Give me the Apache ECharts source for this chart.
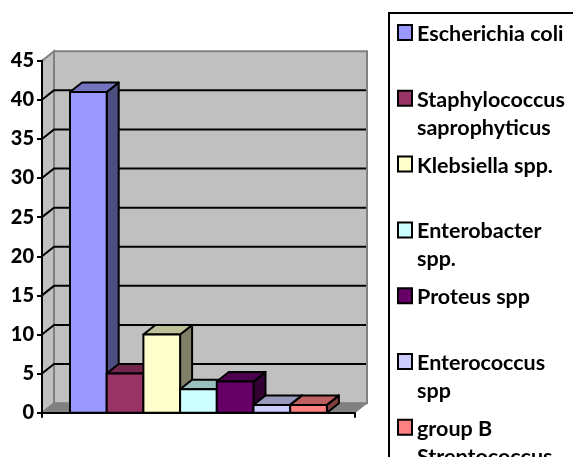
<!DOCTYPE html>
<html>
<head>
<meta charset="utf-8">
<style>
	html, body { margin: 0; padding: 0; background: #fff; overflow: hidden; }
	#chart { width: 573px; height: 457px; }
</style>
<script src="https://cdn.jsdelivr.net/npm/echarts@6/dist/echarts.min.js"></script>
</head>
<body>
<div id="chart"></div>
<script>
var species = ['Escherichia coli', 'Staphylococcus saprophyticus', 'Klebsiella spp.', 'Enterobacter spp.', 'Proteus spp', 'Enterococcus spp', 'group B Streptococcus'];
var speciesLines = ['Escherichia coli\n ', 'Staphylococcus\nsaprophyticus', 'Klebsiella spp.\n ', 'Enterobacter\nspp.', 'Proteus spp\n ', 'Enterococcus\nspp', 'group B\nStreptococcus'];
var counts = [41, 5, 10, 3, 4, 1, 1];
var colors = ['#9999FF', '#993366', '#FFFFCC', '#CCFFFF', '#660066', '#CCCCFF', '#FF8080'];
var gridValues = [5, 10, 15, 20, 25, 30, 35, 40];

// depth of the fake 3d box, in pixels
var DX = 12;
var DY = -9.5;
var BAR_W = 36.7 / 313;
var BAR_START = 28 / 313;

function shade(hex, k) {
	var n = parseInt(hex.slice(1), 16);
	return 'rgb(' + Math.round((n >> 16) * k) + ',' + Math.round(((n >> 8) & 255) * k) + ',' + Math.round((n & 255) * k) + ')';
}

function renderWalls(params, api) {
	var c = params.coordSys;
	var l = c.x, r = c.x + c.width, t = c.y, b = c.y + c.height;
	var wall = { fill: '#C0C0C0', stroke: '#808080', lineWidth: 2 };
	return {
		type: 'group',
		children: [
			{ type: 'polygon', shape: { points: [[l + DX, t + DY], [r + DX, t + DY], [r + DX, b + DY], [l + DX, b + DY]] }, style: wall },
			{ type: 'polygon', shape: { points: [[l, t], [l + DX, t + DY], [l + DX, b + DY], [l, b]] }, style: wall },
			{ type: 'polygon', shape: { points: [[l, b], [l + DX, b + DY], [r + DX, b + DY], [r, b]] }, style: { fill: '#808080', stroke: '#808080', lineWidth: 1 } }
		]
	};
}

function renderGrid(params, api) {
	var c = params.coordSys;
	var y = api.coord([0, api.value(0)])[1];
	return {
		type: 'polyline',
		shape: { points: [[c.x, y], [c.x + DX, y + DY], [c.x + c.width + DX - 1, y + DY]] },
		style: { fill: null, stroke: '#000', lineWidth: 2 }
	};
}

function renderBar(params, api) {
	var i = params.seriesIndex - 2;
	var band = api.size([1, 0])[0];
	var left = params.coordSys.x + band * (BAR_START + BAR_W * i);
	var right = left + band * BAR_W;
	var top = api.coord([0, api.value(1)])[1];
	var bottom = api.coord([0, 0])[1];
	var col = colors[i];
	var edge = { stroke: '#000', lineWidth: 2, lineJoin: 'round' };
	return {
		type: 'group',
		children: [
			{ type: 'polygon', shape: { points: [[right, top], [right + DX, top + DY], [right + DX, bottom + DY], [right, bottom]] }, style: Object.assign({ fill: shade(col, 0.5) }, edge) },
			{ type: 'polygon', shape: { points: [[left, top], [left + DX, top + DY], [right + DX, top + DY], [right, top]] }, style: Object.assign({ fill: shade(col, 0.75) }, edge) },
			{ type: 'rect', shape: { x: left, y: top, width: right - left, height: bottom - top }, style: Object.assign({ fill: col }, edge) }
		]
	};
}

var series = [
	{ type: 'custom', name: 'walls', z: 1, silent: true, renderItem: renderWalls, data: [[0]] },
	{ type: 'custom', name: 'grid', z: 1, silent: true, renderItem: renderGrid, data: gridValues.map(function (v) { return [v]; }) }
];
species.forEach(function (name, i) {
	series.push({
		type: 'custom',
		name: name,
		z: 2,
		renderItem: renderBar,
		itemStyle: { color: colors[i], borderColor: '#000', borderWidth: 2 },
		encode: { x: 0, y: 1 },
		data: [[0, counts[i]]]
	});
});

var myChart = echarts.init(document.getElementById('chart'));

var option = {
	animation: false,
	textStyle: { fontFamily: 'Lato' },
	grid: { left: 42, top: 60.7, width: 313, height: 352 },
	xAxis: {
		type: 'category',
		data: [''],
		z: 5,
		axisLine: { lineStyle: { color: '#000', width: 2 } },
		axisTick: { show: true, length: 5, lineStyle: { color: '#000', width: 2 } },
		axisLabel: { show: false }
	},
	yAxis: {
		type: 'value',
		min: 0,
		max: 45,
		interval: 5,
		z: 5,
		axisLine: { show: true, lineStyle: { color: '#000', width: 2 } },
		axisTick: { show: true, length: 5, lineStyle: { color: '#000', width: 2 } },
		axisLabel: { color: '#000', fontFamily: 'Lato', fontWeight: 900, fontSize: 20, margin: 8 },
		splitLine: { show: false }
	},
	legend: {
		data: species,
		orient: 'vertical',
		left: 389,
		top: 13,
		height: 600,
		padding: [6, 40, 10, 7],
		itemGap: 7.8,
		itemWidth: 15,
		itemHeight: 56,
		symbolKeepAspect: false,
		icon: 'path://M1 5H15V20H1Z M0 0L0 0 M15 56L15 56',
		selectedMode: false,
		borderColor: '#000',
		borderWidth: 2,
		formatter: function (name) {
			return speciesLines[species.indexOf(name)];
		},
		textStyle: { color: '#000', fontFamily: 'Lato', fontWeight: 'bold', fontSize: 21.5, lineHeight: 28, padding: 0 }
	},
	series: series
};
myChart.setOption(option);
</script>
</body>
</html>
